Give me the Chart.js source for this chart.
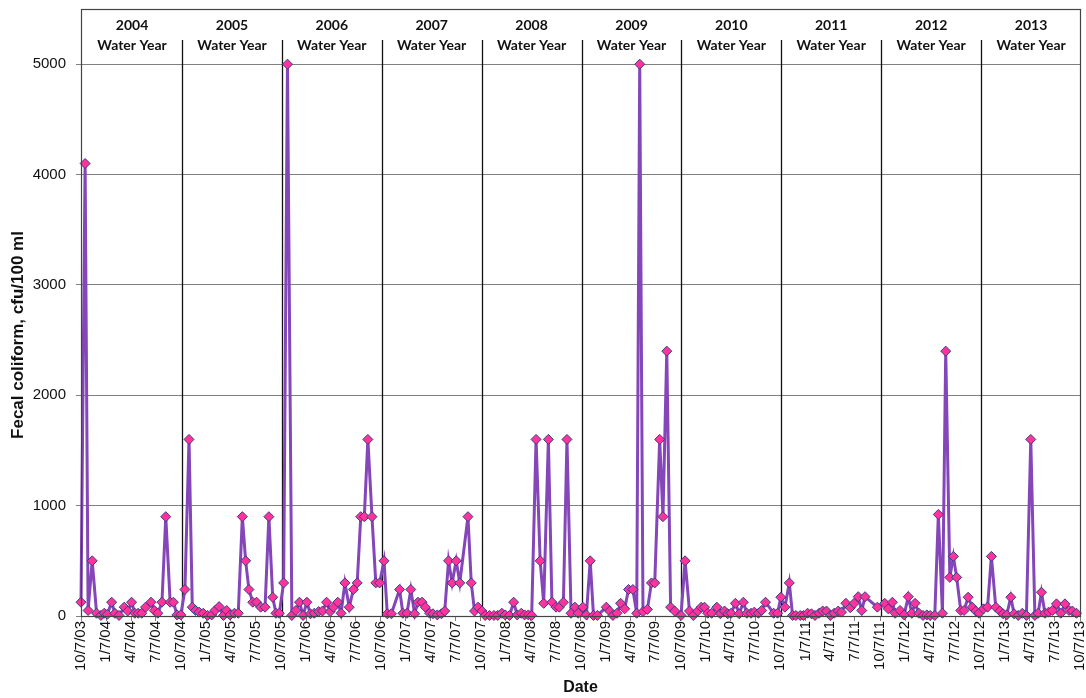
<!DOCTYPE html>
<html>
<head>
<meta charset="utf-8">
<title>Fecal coliform by water year</title>
<script src="https://cdn.jsdelivr.net/npm/chart.js@4.4.1/dist/chart.umd.min.js"></script>
<style>
  html, body { margin: 0; padding: 0; background: #fff; }
  #wrap { width: 1086px; height: 698px; }
</style>
</head>
<body>
<div id="wrap"><canvas id="chart" width="1086" height="698"></canvas></div>
<script>
// sample dates and fecal coliform (cfu/100 ml), one pair of arrays per water year
var dates2004 = ['2003-10-07','2003-10-22','2003-11-02','2003-11-17','2003-12-03','2003-12-19','2003-12-31','2004-01-11','2004-01-27','2004-02-08','2004-02-23','2004-03-13','2004-03-26','2004-04-09','2004-04-21','2004-05-03','2004-05-16','2004-05-30','2004-06-19','2004-07-01','2004-07-14','2004-07-29','2004-08-12','2004-08-28','2004-09-09','2004-09-22'];
var fc2004 = [125,4100,50,500,25,5,25,15,125,25,5,80,45,125,25,25,25,80,125,50,25,125,900,125,125,10];

var dates2005 = ['2004-10-06','2004-10-21','2004-11-05','2004-11-17','2004-11-29','2004-12-12','2004-12-27','2005-01-12','2005-01-27','2005-02-08','2005-02-23','2005-03-11','2005-03-23','2005-04-04','2005-04-20','2005-05-04','2005-05-19','2005-05-31','2005-06-12','2005-06-26','2005-07-10','2005-07-25','2005-08-10','2005-08-24','2005-09-07','2005-09-19','2005-10-01'];
var fc2005 = [10,240,1600,80,50,35,25,5,10,50,85,5,50,10,25,25,900,500,240,125,125,80,80,900,170,25,25];

var dates2006 = ['2005-10-17','2005-10-31','2005-11-16','2005-12-01','2005-12-14','2005-12-27','2006-01-10','2006-01-23','2006-02-06','2006-02-22','2006-03-08','2006-03-23','2006-04-05','2006-04-17','2006-05-03','2006-05-15','2006-05-29','2006-06-14','2006-06-29','2006-07-13','2006-07-26','2006-08-08','2006-08-21','2006-09-05','2006-09-19','2006-10-03'];
var fc2006 = [300,5000,5,50,125,5,125,20,25,40,45,125,40,80,125,25,300,80,240,300,900,900,1600,900,300,300];

var dates2007 = ['2006-10-19','2006-10-31','2006-11-15','2006-12-15','2006-12-27','2007-01-11','2007-01-25','2007-02-08','2007-02-20','2007-03-07','2007-03-19','2007-04-04','2007-04-16','2007-05-02','2007-05-17','2007-05-29','2007-06-12','2007-06-25','2007-07-10','2007-07-23','2007-08-22','2007-09-03','2007-09-15','2007-09-28'];
var fc2007 = [500,20,20,240,25,25,240,20,125,125,80,25,20,10,20,45,500,300,500,300,900,300,45,80];

var dates2008 = ['2007-10-12','2007-10-24','2007-11-09','2007-11-25','2007-12-09','2007-12-24','2008-01-05','2008-01-21','2008-02-05','2008-02-18','2008-03-04','2008-03-16','2008-03-30','2008-04-11','2008-04-27','2008-05-12','2008-05-25','2008-06-11','2008-06-24','2008-07-09','2008-07-21','2008-08-05','2008-08-18','2008-09-02','2008-09-16','2008-09-28'];
var fc2008 = [45,5,5,5,5,25,10,5,125,10,25,10,10,5,1600,500,115,1600,125,80,80,125,1600,25,80,25];

var dates2009 = ['2008-10-15','2008-10-28','2008-11-11','2008-11-23','2008-12-07','2009-01-09','2009-01-21','2009-02-02','2009-02-17','2009-03-02','2009-03-17','2009-03-31','2009-04-16','2009-04-30','2009-05-11','2009-05-23','2009-06-08','2009-06-23','2009-07-05','2009-07-23','2009-08-04','2009-08-18','2009-09-01','2009-09-16'];
var fc2009 = [80,10,500,5,5,80,45,5,25,115,65,240,240,25,5000,40,60,300,300,1600,900,2400,80,45];

var dates2010 = ['2009-10-09','2009-10-24','2009-11-09','2009-11-23','2009-12-09','2009-12-22','2010-01-03','2010-01-15','2010-01-29','2010-02-17','2010-03-02','2010-03-17','2010-03-29','2010-04-10','2010-04-26','2010-05-10','2010-05-25','2010-06-07','2010-06-22','2010-07-04','2010-07-19','2010-07-31','2010-08-14','2010-09-13','2010-09-27'];
var fc2010 = [5,500,45,5,45,80,80,25,25,80,20,45,20,25,115,20,125,25,25,35,25,50,125,25,25];

var dates2011 = ['2010-10-09','2010-10-24','2010-11-09','2010-11-21','2010-12-03','2010-12-19','2010-12-31','2011-01-15','2011-01-29','2011-02-11','2011-02-26','2011-03-11','2011-03-25','2011-04-08','2011-04-22','2011-05-07','2011-05-19','2011-06-04','2011-06-20','2011-07-04','2011-07-19','2011-08-01','2011-08-13','2011-09-27'];
var fc2011 = [170,80,300,5,5,5,5,25,20,5,25,45,45,5,25,45,35,115,75,115,175,50,175,80];

var dates2012 = ['2011-10-24','2011-11-06','2011-11-21','2011-12-01','2011-12-19','2012-01-03','2012-01-18','2012-01-31','2012-02-12','2012-02-26','2012-03-12','2012-03-26','2012-04-07','2012-04-24','2012-05-07','2012-05-22','2012-06-03','2012-06-18','2012-07-01','2012-07-13','2012-07-28','2012-08-09','2012-08-24','2012-09-08','2012-09-21','2012-10-03'];
var fc2012 = [115,65,125,25,50,10,175,25,115,25,5,10,5,5,920,25,2400,350,540,350,50,50,170,80,45,25];

var dates2013 = ['2012-10-19','2012-11-03','2012-11-17','2012-12-03','2012-12-18','2012-12-30','2013-01-12','2013-01-27','2013-02-08','2013-02-23','2013-03-10','2013-03-25','2013-04-10','2013-04-25','2013-05-07','2013-05-19','2013-06-01','2013-06-14','2013-06-28','2013-07-13','2013-07-29','2013-08-13','2013-08-28','2013-09-09','2013-09-24'];
var fc2013 = [65,80,540,80,45,20,10,170,20,5,25,5,1600,5,25,215,25,35,50,110,25,110,50,45,25];

// axis ticks
var xTickDates = ['2003-10-07','2004-01-07','2004-04-07','2004-07-07','2004-10-07','2005-01-07','2005-04-07','2005-07-07',
  '2005-10-07','2006-01-07','2006-04-07','2006-07-07','2006-10-07','2007-01-07','2007-04-07','2007-07-07',
  '2007-10-07','2008-01-07','2008-04-07','2008-07-07','2008-10-07','2009-01-07','2009-04-07','2009-07-07',
  '2009-10-07','2010-01-07','2010-04-07','2010-07-07','2010-10-07','2011-01-07','2011-04-07','2011-07-07',
  '2011-10-07','2012-01-07','2012-04-07','2012-07-07','2012-10-07','2013-01-07','2013-04-07','2013-07-07','2013-10-07'];
var yTickValues = [0, 1000, 2000, 3000, 4000, 5000];

// water year bands
var waterYears = ['2004','2005','2006','2007','2008','2009','2010','2011','2012','2013'];
var waterYearStarts = ['2003-10-07','2004-10-07','2005-10-07','2006-10-07','2007-10-07','2008-10-07','2009-10-07','2010-10-07','2011-10-07','2012-10-07','2013-10-07'];

var yTitle = 'Fecal coliform, cfu/100 ml';
var xTitle = 'Date';

function toTime(s) { return Date.parse(s); }
function fmtDate(v) {
  var d = new Date(v);
  return (d.getUTCMonth() + 1) + '/' + d.getUTCDate() + '/' + String(d.getUTCFullYear()).slice(2);
}

var series = [
  [dates2004, fc2004], [dates2005, fc2005], [dates2006, fc2006], [dates2007, fc2007], [dates2008, fc2008],
  [dates2009, fc2009], [dates2010, fc2010], [dates2011, fc2011], [dates2012, fc2012], [dates2013, fc2013]
];
var points = [];
series.forEach(function (s) {
  s[0].forEach(function (d, i) { points.push({ x: toTime(d), y: s[1][i] }); });
});

var FONT = "'Liberation Sans', Arial, sans-serif";
Chart.defaults.font.family = FONT;
Chart.defaults.color = '#111';

// water year divider lines, labels, axis titles and the plot frame
var waterYearPlugin = {
  id: 'waterYears',
  beforeDatasetsDraw: function (chart) {
    var ctx = chart.ctx, xs = chart.scales.x, area = chart.chartArea;
    ctx.save();
    ctx.strokeStyle = '#111';
    ctx.lineWidth = 1.3;
    for (var i = 1; i < waterYearStarts.length - 1; i++) {
      var px = Math.round(xs.getPixelForValue(toTime(waterYearStarts[i]))) + 1.5;
      ctx.beginPath();
      ctx.moveTo(px, 40);
      ctx.lineTo(px, area.bottom);
      ctx.stroke();
    }
    ctx.fillStyle = '#111';
    ctx.textAlign = 'center';
    ctx.textBaseline = 'middle';
    ctx.font = "bold 14px Lato, 'Open Sans', sans-serif";
    for (var j = 0; j < waterYears.length; j++) {
      var a = xs.getPixelForValue(toTime(waterYearStarts[j]));
      var b = xs.getPixelForValue(toTime(waterYearStarts[j + 1]));
      var cx = (a + b) / 2 + 1;
      ctx.fillText(waterYears[j], cx, 25);
      ctx.fillText('Water Year', cx, 45);
    }
    ctx.restore();
  },
  afterDraw: function (chart) {
    var ctx = chart.ctx, area = chart.chartArea;
    ctx.save();
    ctx.strokeStyle = '#444';
    ctx.lineWidth = 1.2;
    ctx.strokeRect(area.left + 0.5, area.top + 0.5, area.right - area.left, area.bottom - area.top);

    ctx.fillStyle = '#111';
    ctx.textAlign = 'center';
    ctx.textBaseline = 'middle';
    ctx.font = 'bold 17px ' + FONT;
    ctx.translate(18, 335);
    ctx.rotate(-Math.PI / 2);
    ctx.fillText(yTitle, 0, 0);
    ctx.setTransform(1, 0, 0, 1, 0, 0);
    ctx.font = 'bold 16px ' + FONT;
    ctx.fillText(xTitle, (area.left + area.right) / 2, 688);
    ctx.restore();
  }
};

new Chart(document.getElementById('chart'), {
  type: 'line',
  data: {
    datasets: [{
      label: 'Fecal coliform',
      data: points,
      borderColor: '#8446b8',
      borderWidth: 3,
      tension: 0,
      pointStyle: 'rectRot',
      pointRadius: 5,
      pointBackgroundColor: '#ff3399',
      pointBorderColor: '#3a3a8a',
      pointBorderWidth: 1,
      clip: false
    }]
  },
  options: {
    responsive: false,
    animation: false,
    layout: { padding: { top: 9, right: 6, left: 0, bottom: 0 } },
    plugins: { legend: { display: false }, tooltip: { enabled: false } },
    scales: {
      x: {
        type: 'linear',
        min: toTime(xTickDates[0]),
        max: toTime(xTickDates[xTickDates.length - 1]),
        afterBuildTicks: function (scale) {
          scale.ticks = xTickDates.map(function (d) { return { value: toTime(d) }; });
        },
        afterFit: function (scale) {
          scale.height = 82;
          scale.paddingLeft = 0;
          scale.paddingRight = 0;
        },
        ticks: {
          autoSkip: false,
          minRotation: 90,
          maxRotation: 90,
          padding: 0,
          font: { size: 15 },
          color: '#111',
          callback: function (v) { return fmtDate(v); }
        },
        grid: { drawOnChartArea: false, tickLength: 5, color: '#808080' },
        border: { display: true, color: '#444' }
      },
      y: {
        min: 0,
        max: 5500,
        afterBuildTicks: function (scale) {
          scale.ticks = yTickValues.map(function (v) { return { value: v }; });
        },
        afterFit: function (scale) {
          scale.width = 81;
          scale.paddingTop = 0;
          scale.paddingBottom = 0;
        },
        ticks: { padding: 10, font: { size: 15 }, color: '#111', callback: function (v) { return String(v); } },
        grid: { color: '#808080', tickLength: 5, lineWidth: 1 },
        border: { display: true, color: '#444' }
      }
    }
  },
  plugins: [waterYearPlugin]
});
</script>
</body>
</html>
